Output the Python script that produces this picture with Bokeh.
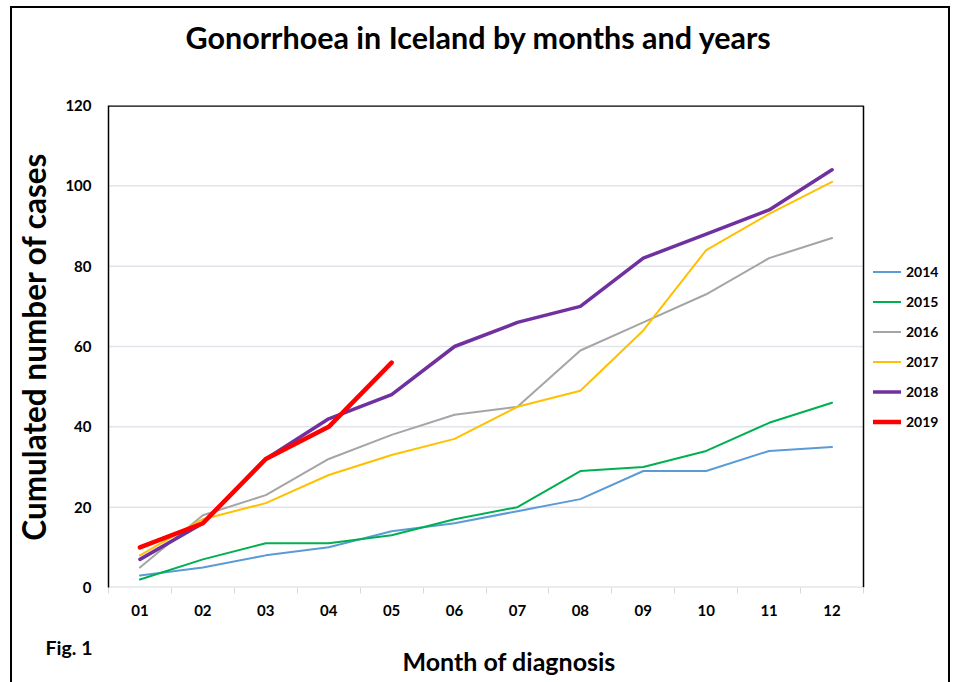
from bokeh.plotting import figure
from bokeh.models import Range1d, FixedTicker, Legend, LegendItem, Title
from bokeh.embed import file_html
from bokeh.resources import INLINE

months = ["01", "02", "03", "04", "05", "06", "07", "08", "09", "10", "11", "12"]
years = ["2014", "2015", "2016", "2017", "2018", "2019"]
y2014 = [3, 5, 8, 10, 14, 16, 19, 22, 29, 29, 34, 35]
y2015 = [2, 7, 11, 11, 13, 17, 20, 29, 30, 34, 41, 46]
y2016 = [5, 18, 23, 32, 38, 43, 45, 59, 66, 73, 82, 87]
y2017 = [8, 17, 21, 28, 33, 37, 45, 49, 64, 84, 93, 101]
y2018 = [7, 16, 32, 42, 48, 60, 66, 70, 82, 88, 94, 104]
y2019 = [10, 16, 32, 40, 56]
y_ticks = [0, 20, 40, 60, 80, 100, 120]

series = [y2014, y2015, y2016, y2017, y2018, y2019]
colors = ["#5B9BD5", "#00B050", "#A5A5A5", "#FFC000", "#7030A0", "#FF0000"]
widths = [2, 2, 2, 2, 3.5, 4.5]

FONT = "Lato"
W, H = 950, 682
LEFT, TOP, BOTTOM = 108, 105, 95       # borders around the plot area
PLOT_W = 755                           # width of the boxed plot area (px)
x_lo, x_hi = 0.5, len(months) + 0.5
px_per_unit = PLOT_W / (x_hi - x_lo)
x_end = x_lo + (W - LEFT) / px_per_unit   # frame continues under the legend
y_lo, y_hi = y_ticks[0], y_ticks[-1]

p = figure(width=W, height=H, output_backend="svg", toolbar_location=None,
           x_range=Range1d(x_lo, x_end), y_range=Range1d(y_lo, y_hi),
           min_border_left=LEFT, min_border_right=0, min_border_top=TOP,
           min_border_bottom=BOTTOM)
p.styles = {
    "background-image": "linear-gradient(#000,#000), linear-gradient(#000,#000), linear-gradient(#000,#000)",
    "background-position": "10px 6px, 10px 6px, 948px 6px",
    "background-size": "2px 690px, 940px 2px, 2px 690px",
    "background-repeat": "no-repeat",
}
p.background_fill_color = None
p.border_fill_color = None
p.outline_line_color = None

xs_all = list(range(1, len(months) + 1))

# gridlines and plot box
p.segment(x0=x_lo, x1=x_hi, y0=y_ticks[1:-1], y1=y_ticks[1:-1],
          line_color="#e2e4ec", line_width=1.5)
p.segment(x0=x_lo, x1=x_hi, y0=y_lo, y1=y_lo, line_color="#d9d9d9", line_width=2)
p.segment(x0=x_lo, x1=x_hi, y0=y_hi, y1=y_hi, line_color="black", line_width=2.5)
p.segment(x0=x_hi, x1=x_hi, y0=y_lo, y1=y_hi, line_color="black", line_width=1.5)

items = []
for name, ys, c, w in zip(years, series, colors, widths):
    r = p.line(xs_all[:len(ys)], ys, line_color=c, line_width=w, line_join="round",
               line_cap="round")
    items.append(LegendItem(label=name, renderers=[r]))

# axes
xa = p.xaxis[0]
xa.ticker = FixedTicker(ticks=xs_all, minor_ticks=[x - 0.5 for x in xs_all] + [x_hi])
xa.major_label_overrides = {i + 1: m for i, m in enumerate(months)}
xa.major_tick_line_color = None
xa.major_tick_out = 0
xa.major_tick_in = 0
xa.minor_tick_line_color = "#d9d9d9"
xa.minor_tick_out = 6
xa.minor_tick_in = 0
xa.axis_line_color = None
xa.major_label_standoff = 11
xa.major_label_text_font = FONT
xa.major_label_text_font_style = "bold"
xa.major_label_text_font_size = "15px"
xa.major_label_text_color = "black"

ya = p.yaxis[0]
ya.ticker = FixedTicker(ticks=y_ticks)
ya.major_tick_line_color = None
ya.minor_tick_line_color = None
ya.major_tick_out = 0
ya.major_tick_in = 0
ya.axis_line_color = "black"
ya.axis_line_width = 1.5
ya.major_label_standoff = 17
ya.major_label_text_font = FONT
ya.major_label_text_font_style = "bold"
ya.major_label_text_font_size = "15px"
ya.major_label_text_color = "black"
ya.axis_label = "Cumulated number of cases"
ya.axis_label_text_font = FONT
ya.axis_label_text_font_style = "bold"
ya.axis_label_text_font_size = "31.5px"
ya.axis_label_text_color = "black"
ya.axis_label_standoff = 9

p.xgrid.grid_line_color = None
p.ygrid.grid_line_color = None

# blank spacer panel between the plot box and the title
p.add_layout(Title(text=" ", standoff=38, text_font_size="10px"), "above")
p.add_layout(Title(text="Gonorrhoea in Iceland by months and years", align="left",
                   offset=77, standoff=0, vertical_align="bottom",
                   text_font=FONT, text_font_style="bold", text_font_size="30.5px",
                   text_color="black"), "above")

legend = Legend(items=items, location=(765, 152), border_line_color=None,
                background_fill_alpha=0, margin=0, padding=4, spacing=3,
                glyph_width=28, glyph_height=27, label_height=27,
                label_standoff=5, label_text_font=FONT,
                label_text_font_style="bold", label_text_font_size="14px",
                label_text_color="black")
p.add_layout(legend)

p.add_layout(Title(text="Fig. 1", align="left", offset=-63, standoff=34,
                   vertical_align="top", text_font=FONT, text_font_style="bold",
                   text_font_size="19.5px", text_color="black"), "below")
p.add_layout(Title(text="Month of diagnosis", align="left", offset=294, standoff=-64,
                   vertical_align="top", text_font=FONT, text_font_style="bold",
                   text_font_size="25px", text_color="black"), "below")

open("out.html", "w").write(file_html(p, INLINE))
